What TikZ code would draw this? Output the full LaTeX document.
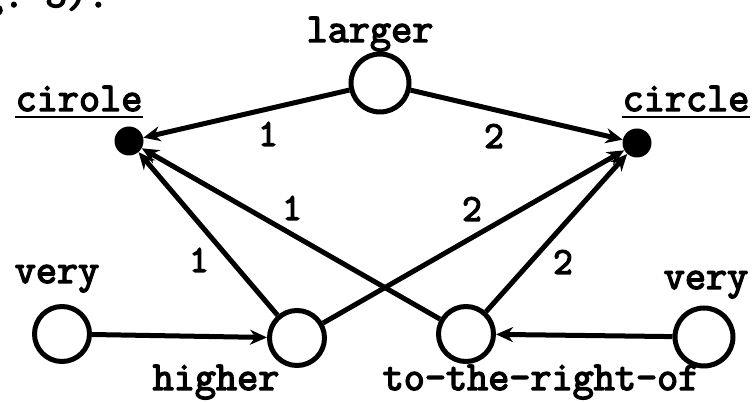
\documentclass[tikz,border=0pt]{standalone}
\usepackage{fontspec}
\setmonofont[AutoFakeBold=3.5]{Latin Modern Mono}
\usetikzlibrary{arrows.meta,calc}
\begin{document}
\begin{tikzpicture}[x=1pt,y=-1pt,
  txt/.style={font=\ttfamily\bfseries\fontsize{41}{44}\selectfont, inner sep=0pt, anchor=base},
  num/.style={font=\ttfamily\bfseries\fontsize{38}{40}\selectfont, inner sep=0pt},
  concept/.style={circle, draw, line width=5pt, minimum size=55pt, inner sep=0pt},
  blob/.style={circle, fill, minimum size=29pt, inner sep=0pt},
  link/.style={line width=5pt, -{Stealth[length=17pt,width=15pt]}},
  uline/.style={line width=2.5pt},
]
\useasboundingbox (0,0) rectangle (753,403);
\clip (0,0) rectangle (753,403);
% cut-off caption fragment
\node[txt, anchor=base west] (frag) at (-18,7) {g. 3).};
% nodes
\node[concept, minimum size=58pt] (larger) at (380,83) {};
\node[blob] (dL) at (129,141) {};
\node[blob] (dR) at (637,143) {};
\node[concept] (veryL) at (62,334) {};
\node[concept] (higher) at (297,338) {};
\node[concept] (trt) at (466,334) {};
\node[concept, minimum size=58pt] (veryR) at (704,337) {};
% texts
\node[txt] (tLarger) at (370,42) {larger};
\node[txt] (tCirL) at (79,111) {cirole};
\node[txt] (tCirR) at (686,111) {circle};
\node[txt] (tVeryL) at (57,283) {very};
\node[txt] (tVeryR) at (706,289) {very};
\node[txt] (tHigher) at (216,390) {higher};
\node[txt] (tTrt) at (541,390) {to-the-right-of};
\draw[uline] ($(tCirL.base west)+(0,6)$) -- ($(tCirL.base east)+(0,6)$);
\draw[uline] ($(tCirR.base west)+(0,6)$) -- ($(tCirR.base east)+(0,6)$);
% connectors
\draw[link] (larger) -- (dL);
\draw[link] (larger) -- (dR);
\draw[link] (higher) -- (dL);
\draw[link] (higher) -- (dR);
\draw[link] (trt) -- (dL);
\draw[link] (trt) -- (dR);
\draw[link] (veryL) -- (higher);
\draw[link] (veryR) -- (trt);
% labels
\node[num] (n1) at (268,134) {1};
\node[num] (n2) at (494,136) {2};
\node[num] (n3) at (292,208) {1};
\node[num] (n4) at (472,209) {2};
\node[num] (n5) at (199,260) {1};
\node[num] (n6) at (563,262) {2};
\end{tikzpicture}
\end{document}
